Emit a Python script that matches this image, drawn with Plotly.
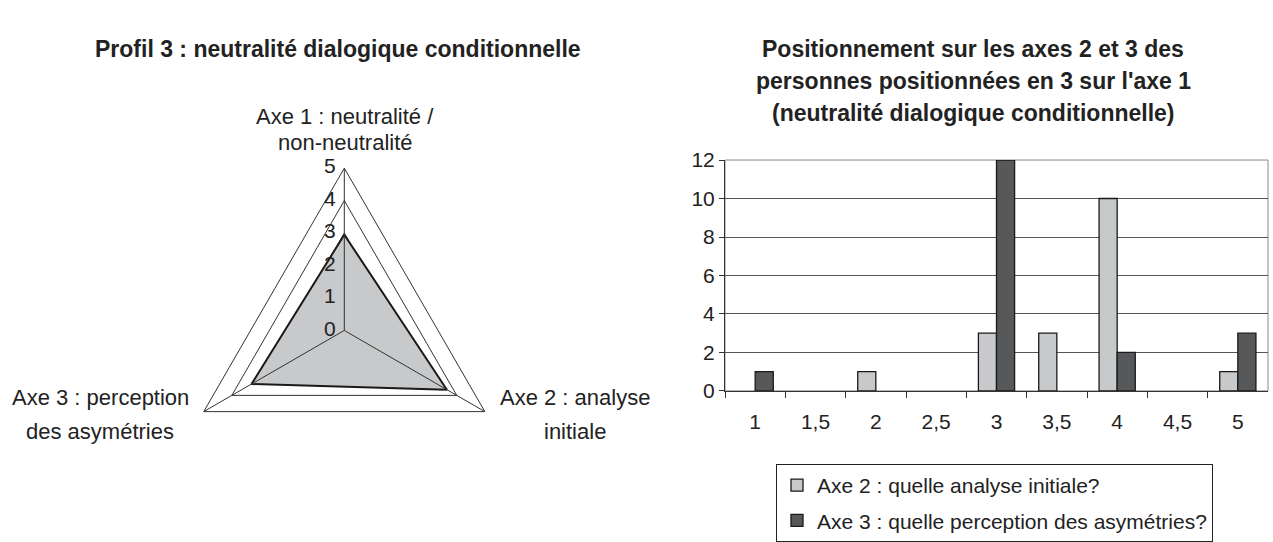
import plotly.graph_objects as go

# ---------------- data ----------------
radar_axes = ["Axe 1 : neutralité / non-neutralité", "Axe 2 : analyse initiale", "Axe 3 : perception des asymétries"]
radar_values = [2.95, 3.65, 3.3]
radar_max = 5
radar_ticks = [0, 1, 2, 3, 4, 5]

categories = ["1", "1,5", "2", "2,5", "3", "3,5", "4", "4,5", "5"]
axe2_values = [0, 0, 1, 0, 3, 3, 10, 0, 1]
axe3_values = [1, 0, 0, 0, 12, 0, 2, 0, 3]
series_names = ["Axe 2 : quelle analyse initiale?", "Axe 3 : quelle perception des asymétries?"]

left_title = "Profil 3 : neutralité dialogique conditionnelle"
right_title = ["Positionnement sur les axes 2 et 3 des",
               "personnes positionnées en 3 sur l'axe 1",
               "(neutralité dialogique conditionnelle)"]
radar_labels = [["Axe 1 : neutralité /", "non-neutralité"],
                ["Axe 2 : analyse", "initiale"],
                ["Axe 3 : perception", "des asymétries"]]

W, H = 1273, 542
FONT = "Liberation Sans, Arial, sans-serif"
TXT = "#222222"
LIGHT = "#C8C9CB"
DARK = "#56585A"


def px(x):
    return x / W


def py(y):
    return 1 - y / H


def nz(vals):
    # Excel draws nothing for a zero count
    return [v if v else None for v in vals]


fig = go.Figure()

# ---------------- radar ----------------
fig.add_trace(go.Scatterpolar(
    r=radar_values + radar_values[:1],
    theta=radar_axes + radar_axes[:1],
    mode="lines", fill="toself", fillcolor=LIGHT,
    line=dict(color="#1a1a1a", width=2),
    showlegend=False, hoverinfo="skip", subplot="polar"))
for a in radar_axes:
    fig.add_trace(go.Scatterpolar(
        r=[0, radar_max], theta=[a, a], mode="lines",
        line=dict(color="#333333", width=1),
        showlegend=False, hoverinfo="skip", subplot="polar"))
# radial value labels along the first axis (tiny offset so the centre label is drawn)
fig.add_trace(go.Scatterpolar(
    r=[max(t, 1e-6) for t in radar_ticks], theta=[radar_axes[0]] * len(radar_ticks),
    mode="markers+text", text=[str(t) for t in radar_ticks],
    textposition="middle left",
    marker=dict(size=12, color="rgba(0,0,0,0)"),
    textfont=dict(size=21, color=TXT, family=FONT),
    showlegend=False, hoverinfo="skip", subplot="polar", cliponaxis=False))

cx, cy, R = 344.3, 334.5, 170.5
fig.update_layout(polar=dict(
    domain=dict(x=[px(cx - R), px(cx + R)], y=[py(cy + R), py(cy - R)]),
    bgcolor="white",
    gridshape="linear",
    radialaxis=dict(range=[0, radar_max], dtick=1, tick0=0, angle=90,
                    showline=False, ticks="", showticklabels=False,
                    showgrid=True, gridcolor="#333333", gridwidth=1),
    angularaxis=dict(rotation=90, direction="clockwise", showticklabels=False,
                     ticks="", showline=True, linecolor="#333333", linewidth=1,
                     showgrid=False),
))

# ---------------- bars ----------------
fig.add_trace(go.Bar(x=categories, y=nz(axe2_values), name=series_names[0],
                     marker=dict(color=LIGHT, line=dict(color="#1a1a1a", width=1.3)),
                     legendgroup="a"))
fig.add_trace(go.Bar(x=categories, y=nz(axe3_values), name=series_names[1],
                     marker=dict(color=DARK, line=dict(color="#1a1a1a", width=1.3)),
                     legendgroup="b"))

fig.update_layout(
    xaxis=dict(domain=[px(725), px(1268)], type="category", tickson="boundaries",
               ticks="outside", ticklen=6, tickcolor="#333333", showline=True,
               linecolor="#333333", linewidth=1, showgrid=False,
               tickfont=dict(size=21, color=TXT, family=FONT), ticklabelstandoff=12),
    yaxis=dict(domain=[py(398), py(155.5)], range=[0, 12], dtick=2,
               ticks="outside", ticklen=5, tickcolor="#333333", showline=True,
               linecolor="#333333", linewidth=1, showgrid=True,
               gridcolor="#555555", gridwidth=1, zeroline=False,
               tickfont=dict(size=21, color=TXT, family=FONT)),
    barmode="group", bargap=0.4, bargroupgap=0,
    plot_bgcolor="white", paper_bgcolor="white",
)
fig.add_shape(type="rect", xref="x domain", yref="y domain", x0=0, x1=1, y0=0, y1=1,
              line=dict(color="#8a8a8a", width=1), layer="below")

fig.update_layout(
    showlegend=True,
    legend=dict(x=px(776), y=py(475), xanchor="left", yanchor="top",
                bordercolor="#222222", borderwidth=1, bgcolor="white",
                font=dict(size=21, color=TXT, family=FONT),
                traceorder="grouped", tracegroupgap=5, itemwidth=30),
)

# ---------------- texts ----------------
ann = []
ann.append(dict(x=px(338), y=py(39), text="<b>" + left_title + "</b>", showarrow=False,
                xanchor="center", yanchor="middle", font=dict(size=23, color=TXT, family=FONT)))
for i, line in enumerate(right_title):
    ann.append(dict(x=px(973), y=py(39 + 33.5 * i), text="<b>" + line + "</b>", showarrow=False,
                    xanchor="center", yanchor="middle", font=dict(size=23, color=TXT, family=FONT)))
label_pos = [(345, 110, 27), (575, 405, 36), (100, 405, 36)]
for (lx, ly, step), lines in zip(label_pos, radar_labels):
    for j, line in enumerate(lines):
        ann.append(dict(x=px(lx), y=py(ly + step * j), text=line,
                        showarrow=False, xanchor="center", yanchor="middle",
                        font=dict(size=22, color=TXT, family=FONT)))
for a in ann:
    a["xref"] = "paper"
    a["yref"] = "paper"

fig.update_layout(annotations=ann, width=W, height=H,
                  margin=dict(l=0, r=0, t=0, b=0), autosize=False,
                  font=dict(family=FONT, color=TXT))

fig.write_html("out.html", config={"displayModeBar": False},
               post_script="document.body.style.margin='0';")
